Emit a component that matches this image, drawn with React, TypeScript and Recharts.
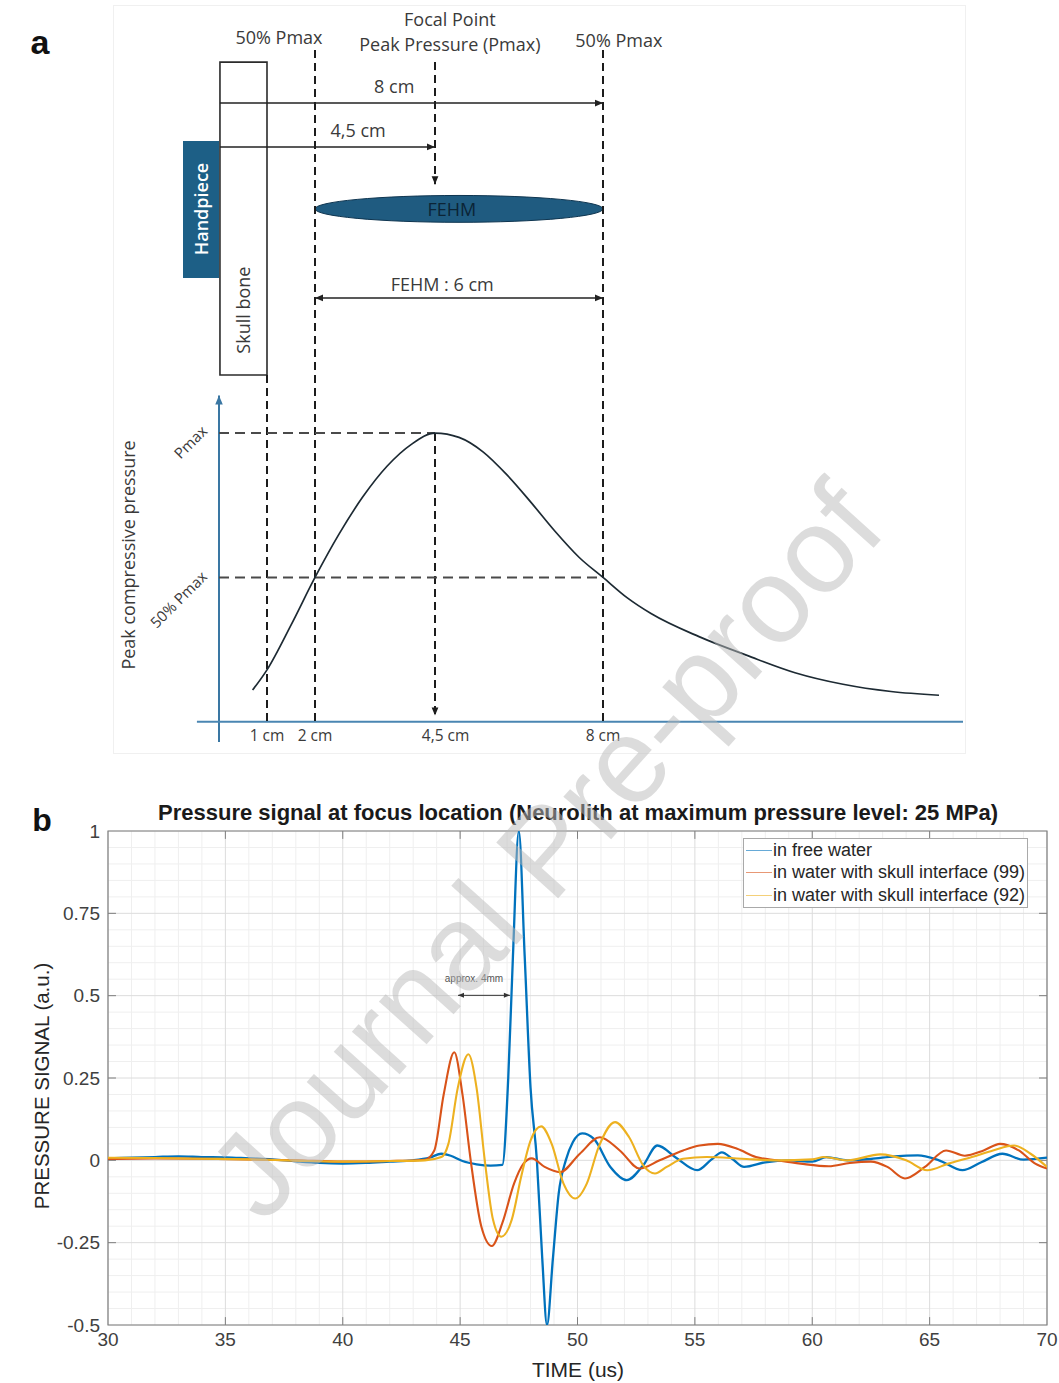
import React from 'react';
import {
  ComposedChart, Line, XAxis, YAxis, CartesianGrid, Legend,
  ReferenceLine, ReferenceArea, ReferenceDot,
} from 'recharts';

// ---- panel a : schematic peak pressure along the beam axis ----
const profileCm = [0.7, 1, 1.5, 2, 2.5, 3, 3.5, 4, 4.5, 5, 5.5, 6, 6.5, 7, 7.5, 8, 8.5, 9, 10, 11, 12, 13, 14, 15];
const profileP = [0.11, 0.18, 0.335, 0.5, 0.65, 0.78, 0.885, 0.96, 1, 0.985, 0.935, 0.855, 0.76, 0.66, 0.57, 0.5, 0.43, 0.375, 0.295, 0.23, 0.17, 0.13, 0.105, 0.092];
const markCm = [1, 2, 4.5, 8];
const markLabels = ['1 cm', '2 cm', '4,5 cm', '8 cm'];
const levelP = [1, 0.5];
const levelLabels = ['Pmax', '50% Pmax'];

// ---- panel b : pressure signal at focus ----
const timeTicks = [30, 35, 40, 45, 50, 55, 60, 65, 70];
const signalTicks = [-0.5, -0.25, 0, 0.25, 0.5, 0.75, 1];
const seriesNames = ['in free water', 'in water with skull interface (99)', 'in water with skull interface (92)'];

const freeWater: [number, number][] = [
  [30, 0.006], [31, 0.008], [32, 0.01], [33, 0.012], [34, 0.01], [35, 0.009], [36, 0.006], [37, 0.003],
  [38, -0.003], [39, -0.008], [40, -0.01], [41, -0.008], [42, -0.004], [43, 0], [43.7, 0.008], [44.2, 0.02],
  [44.6, 0.014], [45.1, -0.002], [45.7, -0.012], [46.3, -0.016], [46.8, -0.014], [47.05, 0.25], [47.25, 0.62],
  [47.5, 1], [47.75, 0.62], [48, 0.22], [48.27, 0], [48.5, -0.3], [48.7, -0.5], [48.95, -0.3], [49.2, -0.1],
  [49.5, 0], [49.8, 0.055], [50.2, 0.082], [50.7, 0.065], [51.4, -0.02], [52.1, -0.06], [52.8, -0.015],
  [53.4, 0.045], [54.2, 0.008], [55.1, -0.03], [55.7, 0.002], [56.15, 0.024], [56.6, 0.004], [57.1, -0.02],
  [58, -0.006], [59, 0], [60, -0.004], [60.6, 0.01], [61.5, 0], [62.5, 0.004], [63.5, 0.012], [64.5, 0.015],
  [65.4, 0], [66.4, -0.03], [67.2, -0.006], [68.1, 0.02], [69, 0.002], [70, 0.008],
];
const skull99: [number, number][] = [
  [30, 0.004], [32, 0.006], [34, 0.005], [36, 0.003], [38, 0], [40, -0.004], [42, -0.002], [43.5, 0.002],
  [43.9, 0.03], [44.3, 0.2], [44.75, 0.328], [45.1, 0.2], [45.45, 0], [45.9, -0.2], [46.35, -0.26], [46.8, -0.19],
  [47.3, -0.07], [47.7, -0.01], [48.05, 0.006], [48.6, -0.02], [49.25, -0.036], [50.1, 0.02], [50.95, 0.07],
  [51.8, 0.03], [52.65, -0.025], [53.5, 0], [54.5, 0.03], [55.2, 0.045], [55.98, 0.05], [56.8, 0.035],
  [57.6, 0.01], [58.5, 0], [59.5, -0.01], [60.7, -0.018], [61.6, -0.008], [62.5, -0.004], [63.2, -0.02],
  [63.95, -0.055], [64.8, -0.02], [65.7, 0.03], [66.5, 0.014], [67.3, 0.03], [68, 0.05], [68.8, 0.03],
  [69.5, -0.01], [70, -0.025],
];
const skull92: [number, number][] = [
  [30, 0.008], [32, 0.007], [34, 0.005], [36, 0.003], [38, -0.001], [40, -0.004], [42, -0.002], [43.5, 0],
  [44.2, 0.01], [44.5, 0.05], [44.9, 0.22], [45.35, 0.322], [45.7, 0.22], [46.05, 0], [46.4, -0.18],
  [46.75, -0.232], [47.2, -0.18], [47.6, -0.05], [48, 0.06], [48.45, 0.103], [48.9, 0.05], [49.4, -0.07],
  [49.9, -0.116], [50.4, -0.07], [50.9, 0.04], [51.6, 0.116], [52.2, 0.07], [52.8, -0.015], [53.3, -0.04],
  [53.8, -0.02], [54.5, 0.005], [55.5, 0.01], [57, 0.005], [58.5, 0], [60, 0.003], [60.5, 0.01], [61.5, 0],
  [62.9, 0.018], [64, 0], [64.9, -0.03], [65.8, -0.01], [66.8, 0.01], [67.7, 0.03], [68.6, 0.045],
  [69.3, 0.02], [70, -0.02],
];

const seriesColors = ['#0072BD', '#D95319', '#EDB120'];
const diagramFont = "'Open Sans', 'Noto Sans', sans-serif";
const matlabFont = "'Liberation Sans', Arial, sans-serif";

const profileData = profileCm.map((cm, i) => ({ cm, p: profileP[i] }));
const toPoints = (pairs: [number, number][]) => pairs.map(([t, v]) => ({ t, v }));

// minor grid of the matlab axes
const minorT: number[] = [];
for (let t = 31; t < 70; t++) if (t % 5) minorT.push(t);
const minorV: number[] = [];
for (let k = -9; k < 20; k++) if (k % 5) minorV.push(k * 0.05);

const arrowHead = (x: number, y: number, ux: number, uy: number, color: string, size = 8) => {
  const bx = x - ux * size, by = y - uy * size;
  const w = size * 0.42;
  return (
    <polygon
      points={`${x},${y} ${bx - uy * w},${by + ux * w} ${bx + uy * w},${by - ux * w}`}
      fill={color}
    />
  );
};

type SegOpt = { color?: string; width?: number; dash?: string; start?: boolean; end?: boolean; head?: number };

const seg = (key: string, x1: number, y1: number, x2: number, y2: number, o: SegOpt = {}) => {
  const color = o.color ?? '#222';
  return (
    <ReferenceLine
      key={key}
      segment={[{ x: x1, y: y1 }, { x: x2, y: y2 }]}
      ifOverflow="visible"
      stroke={color}
      shape={(p: any) => {
        const len = Math.hypot(p.x2 - p.x1, p.y2 - p.y1) || 1;
        const ux = (p.x2 - p.x1) / len, uy = (p.y2 - p.y1) / len;
        return (
          <g>
            <line x1={p.x1} y1={p.y1} x2={p.x2} y2={p.y2} stroke={color}
              strokeWidth={o.width ?? 1.5} strokeDasharray={o.dash} />
            {o.end && arrowHead(p.x2, p.y2, ux, uy, color, o.head)}
            {o.start && arrowHead(p.x1, p.y1, -ux, -uy, color, o.head)}
          </g>
        );
      }}
    />
  );
};

type TxtOpt = { size?: number; color?: string; weight?: number; rotate?: number; family?: string };

const txt = (key: string, x: number, y: number, label: string, o: TxtOpt = {}) => (
  <ReferenceDot
    key={key}
    x={x}
    y={y}
    r={0}
    ifOverflow="visible"
    shape={(p: any) => (
      <text
        x={p.cx}
        y={p.cy}
        textAnchor="middle"
        dominantBaseline="central"
        fontSize={o.size ?? 18}
        fontWeight={o.weight ?? 400}
        fill={o.color ?? '#3a3a3a'}
        fontFamily={o.family ?? diagramFont}
        transform={o.rotate ? `rotate(${o.rotate} ${p.cx} ${p.cy})` : undefined}
      >
        {label}
      </text>
    )}
  />
);

// legend drawn in the order the series were plotted
const LegendBox = (props: any) => {
  const items = [...(props.payload ?? [])].sort(
    (a: any, b: any) => seriesNames.indexOf(a.value) - seriesNames.indexOf(b.value));
  return (
    <div style={{ border: '1px solid #a9a9a9', background: '#fff', fontFamily: matlabFont, fontSize: 18, color: '#262626' }}>
      {items.map((e: any) => (
        <div key={e.value} style={{ display: 'flex', alignItems: 'center', height: 22.5, whiteSpace: 'nowrap' }}>
          <span style={{ display: 'inline-block', width: 26, borderTop: `1.5px solid ${e.color}`, opacity: 0.6, margin: '0 1px 0 2px' }} />
          <span>{e.value}</span>
        </div>
      ))}
    </div>
  );
};

const PanelA = () => {
  const dash = { color: '#1c1c1c', width: 2, dash: '8 5' };
  const hdash = { color: '#4a4a4a', width: 2, dash: '10 6' };
  const axisBlue = '#3a77a3';
  return (
    <ComposedChart width={1059} height={794} data={profileData} margin={{ top: 0, right: 24, bottom: 0, left: 27 }}>
      <XAxis type="number" dataKey="cm" domain={[-4, 17]} hide allowDataOverflow />
      <YAxis type="number" domain={[-0.25, 2.5]} hide allowDataOverflow />

      {/* skull and handpiece */}
      <ReferenceArea x1={0.02} x2={1} y1={1.201} y2={2.285} fill="#fff" fillOpacity={1}
        stroke="#2b2b2b" strokeWidth={1.6} ifOverflow="visible" />
      <ReferenceArea x1={-0.75} x2={0} y1={1.537} y2={2.012} fill="#1d5f86" fillOpacity={1}
        stroke="none" ifOverflow="visible" />
      <ReferenceArea x1={markCm[1]} x2={markCm[3]} y1={1.73} y2={1.823} ifOverflow="visible"
        shape={(p: any) => (
          <ellipse cx={p.x + p.width / 2} cy={p.y + p.height / 2} rx={p.width / 2} ry={p.height / 2}
            fill="#1f5b80" stroke="#0e3550" strokeWidth={1} />
        )} />

      {/* axes of the profile */}
      {seg('yax', 0, -0.07, 0, 1.13, { color: axisBlue, width: 2, end: true, head: 9 })}
      {seg('xax', -0.46, 0, 15.5, 0, { color: '#4a86b2', width: 2 })}

      {/* dashed guides */}
      {seg('v1', markCm[0], 1.201, markCm[0], 0, dash)}
      {seg('v2', markCm[1], 2.327, markCm[1], 0, dash)}
      {seg('v8', markCm[3], 2.327, markCm[3], 0, dash)}
      {seg('v45a', markCm[2], 2.285, markCm[2], 1.862, { ...dash, end: true })}
      {seg('v45b', markCm[2], levelP[0], markCm[2], 0.022, { ...dash, end: true })}
      {seg('hP', 0, levelP[0], markCm[2], levelP[0], hdash)}
      {seg('h50', 0, levelP[1], markCm[3], levelP[1], hdash)}

      {/* distance arrows */}
      {seg('a8', 0.02, 2.143, markCm[3], 2.143, { color: '#222', width: 1.5, end: true })}
      {seg('a45', 0.02, 1.991, markCm[2], 1.991, { color: '#222', width: 1.5, end: true })}
      {seg('afehm', markCm[1], 1.468, markCm[3], 1.468, { color: '#222', width: 1.5, start: true, end: true })}

      <Line dataKey="p" type="monotone" stroke="#1d2a33" strokeWidth={1.7} dot={false} isAnimationActive={false} />

      {txt('t50l', 1.25, 2.372, '50% Pmax')}
      {txt('tfp', 4.81, 2.434, 'Focal Point')}
      {txt('tpp', 4.81, 2.348, 'Peak Pressure (Pmax)')}
      {txt('t50r', 8.33, 2.361, '50% Pmax')}
      {txt('t8', 3.65, 2.202, '8 cm')}
      {txt('t45', 2.9, 2.05, '4,5 cm')}
      {txt('tfehm', 4.85, 1.776, 'FEHM', { color: '#0b2436' })}
      {txt('tfehm6', 4.65, 1.516, 'FEHM : 6 cm')}
      {txt('tskull', 0.5, 1.426, 'Skull bone', { rotate: -90 })}
      {txt('thand', -0.375, 1.776, 'Handpiece', { rotate: -90, color: '#fff', weight: 600 })}
      {txt('tylab', -1.9, 0.578, 'Peak compressive pressure', { rotate: -90 })}
      {levelP.map((lv, i) =>
        txt(`lv${i}`, i === 0 ? -0.6 : -0.85, lv - (i === 0 ? 0.03 : 0.075), levelLabels[i], { size: 15, rotate: -45 }))}
      {markCm.map((cm, i) => txt(`mk${i}`, cm + (i === 2 ? 0.22 : 0), -0.046, markLabels[i], { size: 15.5 }))}
    </ComposedChart>
  );
};

const PanelB = () => {
  const tickColor = '#7f7f7f';
  const tickLen = 0.024;
  const tickLenT = 0.34;
  return (
    <ComposedChart width={1059} height={603} margin={{ top: 51, right: 12, bottom: 28, left: 48 }}>
      <CartesianGrid stroke="#efefef" verticalValues={minorT} horizontalValues={minorV} />
      <CartesianGrid stroke="#dcdcdc" />
      <XAxis type="number" dataKey="t" domain={[30, 70]} ticks={timeTicks} interval={0} allowDataOverflow
        height={30} tickLine={false} axisLine={false}
        tick={{ fontSize: 19, fill: '#404040', fontFamily: matlabFont }} />
      <YAxis type="number" domain={[-0.5, 1]} ticks={signalTicks} interval={0} allowDataOverflow
        width={60} tickLine={false} axisLine={false}
        tick={{ fontSize: 19, fill: '#404040', fontFamily: matlabFont }} />
      <ReferenceArea x1={30} x2={70} y1={-0.5} y2={1} fill="none" fillOpacity={0} stroke="#808080"
        strokeWidth={1.2} ifOverflow="visible" />
      {timeTicks.slice(1, -1).map((t) => [
        seg(`tb${t}`, t, -0.5, t, -0.5 + tickLen, { color: tickColor, width: 1 }),
        seg(`tt${t}`, t, 1, t, 1 - tickLen, { color: tickColor, width: 1 }),
      ])}
      {signalTicks.slice(1, -1).map((v) => [
        seg(`tl${v}`, 30, v, 30 + tickLenT, v, { color: tickColor, width: 1 }),
        seg(`tr${v}`, 70, v, 70 - tickLenT, v, { color: tickColor, width: 1 }),
      ])}

      <Line data={toPoints(freeWater)} dataKey="v" name={seriesNames[0]} type="monotone"
        stroke={seriesColors[0]} strokeWidth={2.3} dot={false} isAnimationActive={false} />
      <Line data={toPoints(skull99)} dataKey="v" name={seriesNames[1]} type="monotone"
        stroke={seriesColors[1]} strokeWidth={2.1} dot={false} isAnimationActive={false} />
      <Line data={toPoints(skull92)} dataKey="v" name={seriesNames[2]} type="monotone"
        stroke={seriesColors[2]} strokeWidth={2.1} dot={false} isAnimationActive={false} />

      {seg('approx', 44.91, 0.501, 47.12, 0.501, { color: '#333', width: 1, start: true, end: true, head: 6 })}
      {txt('approxT', 45.59, 0.553, 'approx. 4mm', { size: 10, color: '#555', family: matlabFont })}

      <Legend layout="vertical" align="center" verticalAlign="middle"
        wrapperStyle={{ left: 743, top: 58, width: 285 }} content={LegendBox} />
    </ComposedChart>
  );
};

const abs = (extra: React.CSSProperties): React.CSSProperties => ({ position: 'absolute', whiteSpace: 'nowrap', ...extra });

export default function App() {
  return (
    <div style={{ position: 'absolute', left: 0, top: 0, width: 1059, height: 1383, background: '#fff', overflow: 'hidden' }}>
      <div style={abs({ left: 113, top: 5, width: 851, height: 747, border: '1px solid #f0f0f0' })} />
      <div style={abs({ left: 0, top: 0 })}>
        <PanelA />
      </div>
      <div style={abs({ left: 40, top: 42, transform: 'translate(-50%,-50%)', fontFamily: matlabFont, fontWeight: 700, fontSize: 34, color: '#111' })}>a</div>

      <div style={abs({ left: 0, top: 780 })}>
        <PanelB />
      </div>
      <div style={abs({ left: 42, top: 820, transform: 'translate(-50%,-50%)', fontFamily: matlabFont, fontWeight: 700, fontSize: 32, color: '#111' })}>b</div>
      <div style={abs({ left: 578, top: 813, transform: 'translate(-50%,-50%)', fontFamily: matlabFont, fontWeight: 700, fontSize: 22, color: '#1a1a1a' })}>
        Pressure signal at focus location (Neurolith at maximum pressure level: 25 MPa)
      </div>
      <div style={abs({ left: 42, top: 1086, transform: 'translate(-50%,-50%) rotate(-90deg)', fontFamily: matlabFont, fontSize: 20.5, color: '#262626' })}>
        PRESSURE SIGNAL (a.u.)
      </div>
      <div style={abs({ left: 578, top: 1370, transform: 'translate(-50%,-50%)', fontFamily: matlabFont, fontSize: 21, color: '#262626' })}>
        TIME (us)
      </div>

      <div style={abs({ left: 545, top: 850, transform: 'translate(-50%,-50%) rotate(-48deg)', fontFamily: matlabFont, fontSize: 121, color: 'rgba(185,185,185,0.5)', pointerEvents: 'none' })}>
        Journal Pre-proof
      </div>
    </div>
  );
}
